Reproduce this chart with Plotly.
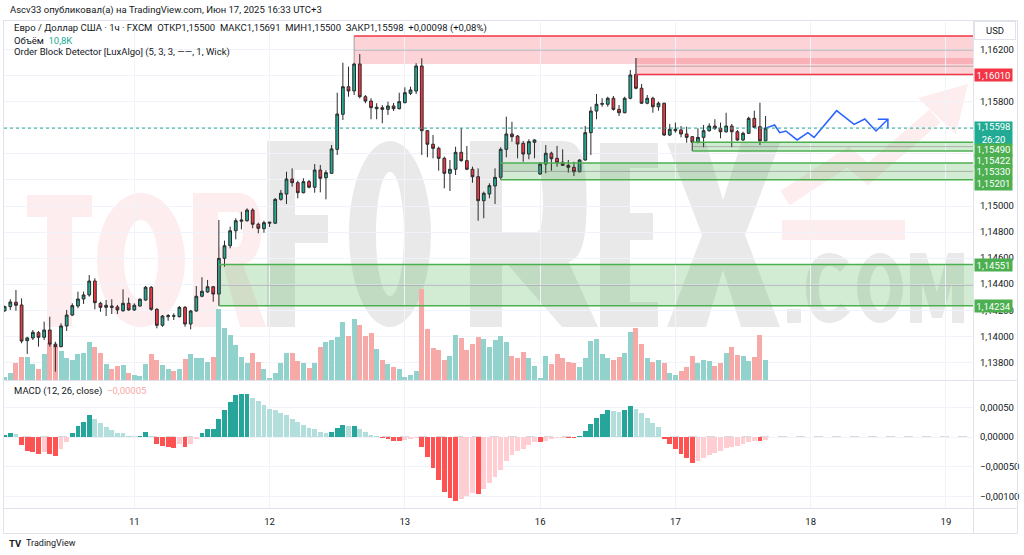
import plotly.graph_objects as go

# ---------------- DATA ----------------
opens = [1.14196,1.14227,1.14261,1.14240,1.13966,1.13987,1.14027,1.13992,1.14048,1.13940,
1.13920,1.14079,1.14163,1.14232,1.14286,1.14317,1.14424,1.14253,1.14222,1.14232,
1.14225,1.14196,1.14253,1.14202,1.14232,1.14278,1.14376,1.14207,1.14084,1.14150,
1.14157,1.14150,1.14222,1.14094,1.14194,1.14307,1.14340,1.14380,1.14324,1.14598,
1.14695,1.14810,1.14883,1.14887,1.14969,1.14860,1.14826,1.14868,1.14868,1.15051,
1.15092,1.15207,1.15179,1.15102,1.15187,1.15144,1.15276,1.15217,1.15251,1.15435,
1.15704,1.15916,1.15883,1.16090,1.15839,1.15806,1.15747,1.15755,1.15742,1.15768,
1.15747,1.15793,1.15865,1.15883,1.16075,1.15578,1.15474,1.15443,1.15366,1.15251,
1.15282,1.15412,1.15348,1.15282,1.15225,1.15041,1.15092,1.15154,1.15220,1.15435,
1.15553,1.15537,1.15481,1.15399,1.15489,1.15246,1.15322,1.15405,1.15366,1.15336,
1.15312,1.15297,1.15263,1.15353,1.15563,1.15729,1.15781,1.15781,1.15827,1.15742,
1.15716,1.15827,1.16010,1.15904,1.15789,1.15827,1.15762,1.15789,1.15545,1.15578,
1.15584,1.15553,1.15532,1.15490,1.15527,1.15578,1.15614,1.15597,1.15570,1.15614,
1.15570,1.15507,1.15558,1.15673,1.15609,1.15500]
highs = [1.14235,1.14284,1.14355,1.14291,1.13996,1.14048,1.14040,1.14112,1.14150,1.13958,
1.14099,1.14202,1.14253,1.14342,1.14342,1.14470,1.14445,1.14265,1.14278,1.14284,
1.14240,1.14360,1.14296,1.14253,1.14291,1.14386,1.14386,1.14215,1.14163,1.14171,
1.14176,1.14232,1.14232,1.14202,1.14386,1.14453,1.14432,1.14386,1.14893,1.14734,
1.14841,1.14906,1.14956,1.14982,1.14982,1.14872,1.14887,1.14877,1.15061,1.15123,
1.15263,1.15289,1.15194,1.15213,1.15200,1.15322,1.15315,1.15276,1.15468,1.15870,
1.16100,1.16070,1.16100,1.16167,1.15852,1.15827,1.15789,1.15775,1.15801,1.15791,
1.15870,1.15911,1.15916,1.16096,1.16134,1.15584,1.15545,1.15455,1.15379,1.15353,
1.15455,1.15597,1.15461,1.15302,1.15289,1.15110,1.15174,1.15289,1.15451,1.15686,
1.15647,1.15545,1.15499,1.15512,1.15512,1.15338,1.15468,1.15417,1.15461,1.15435,
1.15353,1.15340,1.15359,1.15614,1.15762,1.15860,1.15827,1.15839,1.15845,1.15775,
1.15839,1.16044,1.16136,1.15937,1.15852,1.15839,1.15801,1.15793,1.15630,1.15640,
1.15614,1.15609,1.15537,1.15597,1.15622,1.15635,1.15666,1.15640,1.15716,1.15630,
1.15584,1.15570,1.15686,1.15732,1.15793,1.15691]
lows = [1.14188,1.14202,1.14196,1.13946,1.13864,1.13971,1.13920,1.13971,1.13920,1.13728,
1.13915,1.14040,1.14155,1.14215,1.14248,1.14304,1.14207,1.14188,1.14155,1.14171,
1.14171,1.14188,1.14196,1.14194,1.14227,1.14273,1.14196,1.14061,1.14073,1.14119,
1.14125,1.14145,1.14073,1.14053,1.14188,1.14299,1.14334,1.14265,1.14234,1.14534,
1.14675,1.14744,1.14821,1.14880,1.14829,1.14790,1.14795,1.14839,1.14862,1.15041,
1.15015,1.15148,1.15059,1.15098,1.15136,1.15102,1.15105,1.15051,1.15246,1.15392,
1.15660,1.15839,1.15852,1.15827,1.15789,1.15666,1.15666,1.15635,1.15699,1.15729,
1.15742,1.15789,1.15852,1.15860,1.15392,1.15374,1.15366,1.15271,1.15136,1.15115,
1.15238,1.15340,1.15276,1.15179,1.14887,1.14906,1.15059,1.15015,1.15201,1.15374,
1.15494,1.15366,1.15340,1.15359,1.15366,1.15238,1.15251,1.15271,1.15302,1.15307,
1.15256,1.15230,1.15259,1.15348,1.15392,1.15666,1.15762,1.15762,1.15732,1.15691,
1.15712,1.15819,1.15896,1.15783,1.15781,1.15716,1.15732,1.15537,1.15537,1.15563,
1.15527,1.15486,1.15422,1.15481,1.15451,1.15570,1.15584,1.15520,1.15563,1.15451,
1.15501,1.15499,1.15553,1.15597,1.15468,1.15500]
closes = [1.14227,1.14263,1.14238,1.13963,1.13987,1.14030,1.13992,1.14048,1.13940,1.13920,
1.14079,1.14163,1.14235,1.14286,1.14317,1.14424,1.14258,1.14222,1.14238,1.14222,
1.14202,1.14253,1.14202,1.14238,1.14284,1.14376,1.14207,1.14084,1.14155,1.14158,
1.14155,1.14222,1.14094,1.14194,1.14307,1.14345,1.14380,1.14324,1.14598,1.14695,
1.14810,1.14887,1.14892,1.14969,1.14860,1.14829,1.14872,1.14875,1.15051,1.15098,
1.15207,1.15179,1.15102,1.15187,1.15144,1.15276,1.15213,1.15256,1.15438,1.15706,
1.15916,1.15883,1.16090,1.15839,1.15806,1.15755,1.15758,1.15742,1.15768,1.15747,
1.15801,1.15870,1.15891,1.16075,1.15578,1.15474,1.15443,1.15366,1.15251,1.15282,
1.15412,1.15348,1.15282,1.15225,1.15041,1.15098,1.15156,1.15220,1.15435,1.15553,
1.15532,1.15476,1.15399,1.15494,1.15507,1.15322,1.15405,1.15363,1.15332,1.15312,
1.15297,1.15263,1.15353,1.15563,1.15729,1.15781,1.15786,1.15827,1.15742,1.15716,
1.15827,1.16006,1.15904,1.15789,1.15827,1.15762,1.15789,1.15545,1.15589,1.15589,
1.15553,1.15527,1.15490,1.15527,1.15578,1.15614,1.15597,1.15570,1.15614,1.15570,
1.15507,1.15558,1.15673,1.15604,1.15500,1.15598]
volume_k = [1.8,3.6,9.3,12.3,12.6,8.6,6.1,13.9,19.8,18.4,
15.8,11.7,10.8,13.9,14.4,20.5,17.7,14.4,8.6,6.1,
7.6,7.9,3.9,2.9,2.2,8.5,14.0,10.8,7.9,6.1,
5.0,6.1,11.3,13.9,11.9,11.9,9.7,12.3,38.1,27.9,
24.3,18.9,12.6,9.0,14.4,9.9,5.8,0.9,3.6,9.0,
14.7,14.7,10.3,9.3,6.6,9.0,18.0,20.7,21.6,23.4,
31.5,23.8,32.8,29.7,23.8,25.2,16.6,10.8,8.5,6.9,
5.8,1.8,2.7,5.0,49.0,27.4,17.1,16.2,10.8,13.0,
24.3,22.5,16.2,19.4,23.1,22.0,18.0,21.6,23.8,20.7,
13.0,12.0,15.0,11.7,7.6,0.9,13.0,8.6,13.9,11.7,
9.9,9.0,7.2,12.0,21.1,22.1,14.0,11.7,10.8,12.3,
14.7,26.1,27.9,19.4,11.7,9.9,10.8,9.3,3.6,2.7,
5.0,7.2,13.0,9.0,10.8,10.4,7.6,9.3,14.4,17.7,
13.5,13.0,10.4,12.3,24.3,10.8]
# MACD histogram, in units of 0.00001
macd_hist_e5 = [3,6,4.5,-14,-24,-26,-29,-25,-29,-32,
-21,-8,7,19,26,37,30,24,17,12,
7,6,2,0.5,2,9,2,-12,-15,-16,
-18,-12,-17,-12,-3,6,13.5,14,30,46,
59,70,72,73,66,60,54,48,45,41,
37,31,25,21,16,13,9,7,9,15,
21,18,19,13,8,4,1,-2,-4,-6,
-6.5,-5,-4,-1,-16,-34,-52,-72,-92,-103,
-107,-104,-100,-95,-96,-88,-78,-68,-55,-40,
-30,-24,-20,-14,-8,-9,-6,-4,-2,-1,
-1.5,-2,2,10,22,32,38,45,44,42,
46,52,48,40,32,24,17,-3,-12,-20,
-28,-36,-43,-40,-36,-31,-27,-24,-19,-17,
-15,-12,-8,-6,-7,-5]

day_tick_bars = [23, 47, 71, 95, 119, 143, 167]
day_tick_labels = ["11", "12", "13", "16", "17", "18", "19"]
price_ticks = [1.138, 1.140, 1.142, 1.144, 1.146, 1.148, 1.150, 1.152, 1.154, 1.156, 1.158, 1.160, 1.162]
# price-scale texts; the ones fully hidden behind value badges are left blank
price_tick_text = ["1,13800", "1,14000", "1,14200", "1,14400", "1,14600", "1,14800", "1,15000",
                   "", "", "", "1,15800", "", "1,16200"]
macd_ticks = [0.0005, 0.0, -0.0005, -0.0010]

last_price = 1.15598
# order blocks: start bar, top, bottom
bear_obs = [(62, 1.16305, 1.16090), (112, 1.16136, 1.16010)]
bull_obs = [(38, 1.14551, 1.14234), (88, 1.15330, 1.15201), (122, 1.15490, 1.15422)]
# hand-drawn forecast path (bar index, price)
proj_bar = [135, 136.6, 137.5, 138.6, 140.6, 142.5, 143.6, 147.6, 150.7, 152.6, 154.6, 156.7]
proj_price = [1.15598, 1.15622, 1.15563, 1.15576, 1.15507, 1.15563, 1.15527, 1.15732, 1.15627, 1.15668, 1.15576, 1.15666]
arrow_bar = [154.9, 156.7, 156.7]
arrow_price = [1.15666, 1.15666, 1.15597]

# ---------------- LAYOUT HELPERS ----------------
W, H = 1024, 555
def px(x): return x / W
def py(y): return 1 - y / H

bars = list(range(len(opens)))
XR = [-0.12, 171.8]
PR = [1.15 - (380 - 206) / 13025, 1.15 + (206 - 22) / 13025]
MR = [-(508 - 437) * 1.685e-5, (437 - 381) * 1.685e-5]
VR = [0, 193.3]

up_col, dn_col = "#22ab94", "#f23645"
vol_cols = ["#92d2cc" if c >= o else "#f7a9a7" for o, c in zip(opens, closes)]
macd_vals = [v * 1e-5 for v in macd_hist_e5]
macd_cols = []
for k, v in enumerate(macd_vals):
    prev = macd_vals[k - 1] if k else v - 1e-9
    if v >= 0:
        macd_cols.append("#26a69a" if v > prev else "#b2dfdb")
    else:
        macd_cols.append("#ff5252" if v < prev else "#ffcdd2")

fig = go.Figure()
fig.add_trace(go.Bar(x=bars, y=volume_k, marker=dict(color=vol_cols, line=dict(width=0)),
                     width=0.88, xaxis="x", yaxis="y", hoverinfo="skip"))
fig.add_trace(go.Candlestick(x=bars, open=opens, high=highs, low=lows, close=closes,
                             xaxis="x", yaxis="y2", whiskerwidth=0,
                             increasing=dict(fillcolor=up_col, line=dict(color="#2b2b2b", width=1)),
                             decreasing=dict(fillcolor=dn_col, line=dict(color="#2b2b2b", width=1))))
fig.add_trace(go.Scatter(x=proj_bar, y=proj_price, mode="lines", xaxis="x", yaxis="y2",
                         line=dict(color="#2962ff", width=1.5), hoverinfo="skip"))
fig.add_trace(go.Scatter(x=arrow_bar, y=arrow_price, mode="lines", xaxis="x", yaxis="y2",
                         line=dict(color="#2962ff", width=1.5), hoverinfo="skip"))
fig.add_trace(go.Bar(x=bars, y=macd_vals, marker=dict(color=macd_cols, line=dict(width=0)),
                     width=0.85, xaxis="x2", yaxis="y3", hoverinfo="skip"))

shapes = []

# ---- watermark (drawn below traces) ----
K = 0.5523
def P(x, y): return f"{px(x):.5f},{py(y):.5f}"
def poly(pts):
    return "M" + " L".join(P(x, y) for x, y in pts) + " Z"
def ellipse(cx, cy, rx, ry, cw=True):
    s = 1 if cw else -1
    pts = [
        (cx, cy - ry),
        ((cx + s * K * rx, cy - ry), (cx + s * rx, cy - K * ry), (cx + s * rx, cy)),
        ((cx + s * rx, cy + K * ry), (cx + s * K * rx, cy + ry), (cx, cy + ry)),
        ((cx - s * K * rx, cy + ry), (cx - s * rx, cy + K * ry), (cx - s * rx, cy)),
        ((cx - s * rx, cy - K * ry), (cx - s * K * rx, cy - ry), (cx, cy - ry)),
    ]
    d = "M" + P(*pts[0])
    for seg in pts[1:]:
        d += " C" + " ".join(P(*q) for q in seg)
    return d + " Z"
def ring(cx, cy, rx, ry, irx, iry):
    return ellipse(cx, cy, rx, ry, True) + " " + ellipse(cx, cy, irx, iry, False)
def letter_R(x0, x1, y0, y1, stem, bowl_bottom, hole, leg):
    bx = x1 - (x1 - x0) * 0.12
    outer = ("M" + P(x0, y0) + " L" + P(bx - 20, y0) +
             " C" + P(bx - 2, y0) + " " + P(bx + 4, y0 + 15) + " " + P(bx + 4, (y0 + bowl_bottom) / 2) +
             " C" + P(bx + 4, bowl_bottom - 12) + " " + P(bx - 4, bowl_bottom - 4) + " " + P(bx - 14, bowl_bottom) +
             " L" + P(x1, y1) + " L" + P(x1 - leg, y1) + " L" + P(x0 + stem + 6, bowl_bottom + 3) +
             " L" + P(x0 + stem, bowl_bottom + 3) + " L" + P(x0 + stem, y1) + " L" + P(x0, y1) + " Z")
    hx0, hy0, hx1, hy1 = hole
    inner = ("M" + P(hx0, hy0) + " L" + P(hx0, hy1) + " L" + P(hx1 - 8, hy1) +
             " C" + P(hx1, hy1) + " " + P(hx1, hy0) + " " + P(hx1 - 8, hy0) + " Z")
    return outer + " " + inner

pink = "rgba(242,54,69,0.09)"
grey = "rgba(0,0,0,0.085)"
wm = []
wm.append((poly([(27, 195), (92, 195), (92, 217), (72, 217), (72, 327), (47, 327), (47, 217), (27, 217)]), pink))
wm.append((ring(141, 260, 44, 67, 17, 40), pink))
wm.append((letter_R(193, 266, 193, 327, 25, 265, (218, 212, 245, 247), 26), pink))
wm.append((poly([(267, 141), (334, 141), (334, 170), (295, 170), (295, 215), (328, 215), (328, 243),
                 (295, 243), (295, 327), (267, 327)]), grey))
wm.append((ring(390, 234, 41, 93, 14, 62), grey))
wm.append((letter_R(470, 598, 141, 327, 32, 262, (502, 172, 545, 232), 36), grey))
wm.append((poly([(600, 143), (658, 143), (658, 168), (630, 168), (630, 213), (653, 213), (653, 240),
                 (630, 240), (630, 302), (658, 302), (658, 327), (600, 327)]), grey))
wm.append((poly([(667, 143), (706, 143), (723, 200), (741, 143), (780, 143), (745, 235), (780, 327),
                 (741, 327), (723, 270), (706, 327), (667, 327), (702, 235)]), grey))
# .COM
wm.append((poly([(787, 309), (801, 309), (801, 323), (787, 323)]), grey))
c_path = ("M" + P(849, 262) + " C" + P(842, 255) + " " + P(835, 253) + " " + P(829, 253) +
          " C" + P(815, 253) + " " + P(806, 268) + " " + P(806, 288) +
          " C" + P(806, 308) + " " + P(815, 323) + " " + P(829, 323) +
          " C" + P(837, 323) + " " + P(844, 319) + " " + P(850, 312) +
          " L" + P(841, 303) + " C" + P(838, 307) + " " + P(834, 310) + " " + P(829, 310) +
          " C" + P(822, 310) + " " + P(819, 300) + " " + P(819, 288) +
          " C" + P(819, 276) + " " + P(822, 266) + " " + P(829, 266) +
          " C" + P(833, 266) + " " + P(837, 268) + " " + P(840, 272) + " Z")
wm.append((c_path, grey))
wm.append((ring(880, 288, 23, 35, 10, 22), grey))
wm.append((poly([(910, 323), (910, 253), (926, 253), (937, 292), (948, 253), (964, 253), (964, 323),
                 (952, 323), (952, 283), (942, 318), (932, 318), (922, 283), (922, 323)]), grey))
for d, col in wm:
    shapes.append(dict(type="path", xref="paper", yref="paper", path=d, fillcolor=col,
                       line=dict(width=0), layer="below"))
shapes.append(dict(type="path", xref="paper", yref="paper",
                   path="M" + P(785, 198) + " L" + P(848, 157) + " L" + P(868, 174) + " L" + P(935, 116),
                   line=dict(color=pink, width=17), layer="below"))
shapes.append(dict(type="path", xref="paper", yref="paper",
                   path=poly([(918, 98), (968, 84), (956, 134)]), fillcolor=pink, line=dict(width=0), layer="below"))
shapes.append(dict(type="path", xref="paper", yref="paper",
                   path=poly([(782, 220), (905, 220), (905, 240), (782, 240)]), fillcolor=pink,
                   line=dict(width=0), layer="below"))

# ---- order blocks ----
for b0, top, bot in bear_obs:
    shapes.append(dict(type="rect", xref="x", yref="y2", x0=b0, x1=XR[1] + 5, y0=bot, y1=top,
                       fillcolor="rgba(242,54,69,0.22)", line=dict(width=0), layer="below"))
for b0, top, bot in bull_obs:
    shapes.append(dict(type="rect", xref="x", yref="y2", x0=b0, x1=XR[1] + 5, y0=bot, y1=top,
                       fillcolor="rgba(76,175,80,0.25)", line=dict(width=0), layer="below"))
for b0, top, bot in bear_obs + bull_obs:
    mid = (top + bot) / 2
    shapes.append(dict(type="line", xref="x", yref="y2", x0=b0, x1=XR[1], y0=mid, y1=mid,
                       line=dict(color="rgba(110,110,110,0.45)", width=1)))
    shapes.append(dict(type="line", xref="x", yref="y2", x0=b0, x1=b0, y0=bot, y1=top,
                       line=dict(color="rgba(110,110,110,0.6)", width=1)))
shapes.append(dict(type="line", xref="x", yref="y2", x0=bear_obs[0][0], x1=XR[1], y0=bear_obs[0][1], y1=bear_obs[0][1],
                   line=dict(color="#f23645", width=1.5)))
shapes.append(dict(type="line", xref="x", yref="y2", x0=bear_obs[1][0], x1=XR[1], y0=bear_obs[1][2], y1=bear_obs[1][2],
                   line=dict(color="#f23645", width=1.5)))
for b0, top, bot in bull_obs:
    for yv in (top, bot):
        shapes.append(dict(type="line", xref="x", yref="y2", x0=b0, x1=XR[1], y0=yv, y1=yv,
                           line=dict(color="#4caf50", width=1.5)))
shapes.append(dict(type="line", xref="paper", yref="y2", x0=px(4), x1=px(973), y0=last_price, y1=last_price,
                   line=dict(color="#22ab94", width=1, dash="dot")))
shapes.append(dict(type="line", xref="paper", yref="y3", x0=px(4), x1=px(973), y0=0, y1=0,
                   line=dict(color="#b2b5be", width=1, dash="dash"), layer="below"))
for y in (20.5, 380.5, 508.5, 533.5):
    shapes.append(dict(type="line", xref="paper", yref="paper", x0=px(3), x1=px(1018), y0=py(y), y1=py(y),
                       line=dict(color="#e0e3eb", width=1)))
for x in (3.5, 973.5, 1017.5):
    shapes.append(dict(type="line", xref="paper", yref="paper", x0=px(x), x1=px(x), y0=py(533.5), y1=py(20.5),
                       line=dict(color="#e0e3eb", width=1)))

ann = []
FONT = "Roboto"
TXT = "#131722"
def A(x, y, text, size=9.5, color=TXT, xanchor="left", **kw):
    ann.append(dict(xref="paper", yref="paper", x=px(x), y=py(y), text=text, showarrow=False,
                    xanchor=xanchor, yanchor="middle", font=dict(family=FONT, size=size, color=color), **kw))

A(8, 10, "Ascv33 опубликовал(а) на TradingView.com, Июн 17, 2025 16:33 UTC+3", size=9.5)
A(12, 28, "Евро / Доллар США · 1ч · FXCM  ОТКР1,15500  МАКС1,15691  МИН1,15500  ЗАКР1,15598  +0,00098 (+0,08%)", size=9.5)
A(12, 40, "Объём  <span style='color:#22ab94'>10,8K</span>", size=9.5)
A(12, 52, "Order Block Detector [LuxAlgo] (5, 3, 3, ——, 1, Wick)", size=9.5)
A(12, 391, "MACD (12, 26, close)  <span style='color:#f7a9a7'>−0,00005</span>", size=9.5)
A(24, 543, "TradingView", size=9)
A(7, 543, "<b>TV</b>", size=9.5)

ann.append(dict(xref="paper", yref="paper", x=px(995), y=py(30), text="USD", showarrow=False,
                xanchor="center", yanchor="middle", font=dict(family=FONT, size=9.5, color=TXT),
                bgcolor="#ffffff", bordercolor="#e0e3eb", borderwidth=1, borderpad=3, width=34))
# right-scale value labels: (text, centre row in px, box height, background)
labels = [("1,16010", 75, 12, "#f23645"), ("1,15598<br>26:20", 133, 22, "#22ab94"),
          ("1,15490", 149.5, 11.5, "#4caf50"), ("1,15422", 161, 11.5, "#4caf50"),
          ("1,15330", 172.5, 11.5, "#4caf50"), ("1,15201", 184, 11.5, "#4caf50"),
          ("1,14551", 264.5, 12, "#4caf50"), ("1,14234", 305.5, 12, "#4caf50")]
for t, y, h, bg in labels:
    ann.append(dict(xref="paper", yref="paper", x=px(973.5), y=py(y), text=t, showarrow=False,
                    xanchor="left", yanchor="middle", align="center", valign="middle",
                    font=dict(family=FONT, size=9.5, color="#ffffff"),
                    bgcolor=bg, borderpad=0, width=37, height=h))

grid = "#f0f3fa"
fig.update_layout(
    width=W, height=H, margin=dict(l=0, r=0, t=0, b=0),
    paper_bgcolor="#ffffff", plot_bgcolor="rgba(0,0,0,0)", showlegend=False,
    separators=", ", bargap=0, dragmode=False,
    xaxis=dict(domain=[px(4), px(973)], range=XR, anchor="y", tickvals=day_tick_bars, showticklabels=False,
               showgrid=True, gridcolor=grid, zeroline=False, rangeslider=dict(visible=False), fixedrange=True),
    xaxis2=dict(domain=[px(4), px(973)], range=XR, anchor="y3", tickvals=day_tick_bars, ticktext=day_tick_labels,
                showgrid=True, gridcolor=grid, zeroline=False, ticks="", ticklabelstandoff=6,
                tickfont=dict(family=FONT, size=9.5, color=TXT)),
    yaxis=dict(domain=[py(380), py(22)], range=VR, visible=False, fixedrange=True),
    yaxis2=dict(domain=[py(380), py(22)], range=PR, overlaying="y", anchor="x", side="right",
                tickvals=price_ticks, ticktext=price_tick_text, showgrid=True, gridcolor=grid, zeroline=False,
                ticks="", ticklabelstandoff=6, tickfont=dict(family=FONT, size=9.5, color=TXT)),
    yaxis3=dict(domain=[py(508), py(381)], range=MR, anchor="x2", side="right",
                tickvals=macd_ticks, tickformat=".5f", showgrid=True, gridcolor=grid, zeroline=False,
                ticks="", ticklabelstandoff=6, tickfont=dict(family=FONT, size=9.5, color=TXT)),
    shapes=shapes, annotations=ann,
)
fig.write_html("out.html", config={"displayModeBar": False, "staticPlot": True},
               post_script="document.body.style.margin='0';document.body.style.overflow='hidden';")
